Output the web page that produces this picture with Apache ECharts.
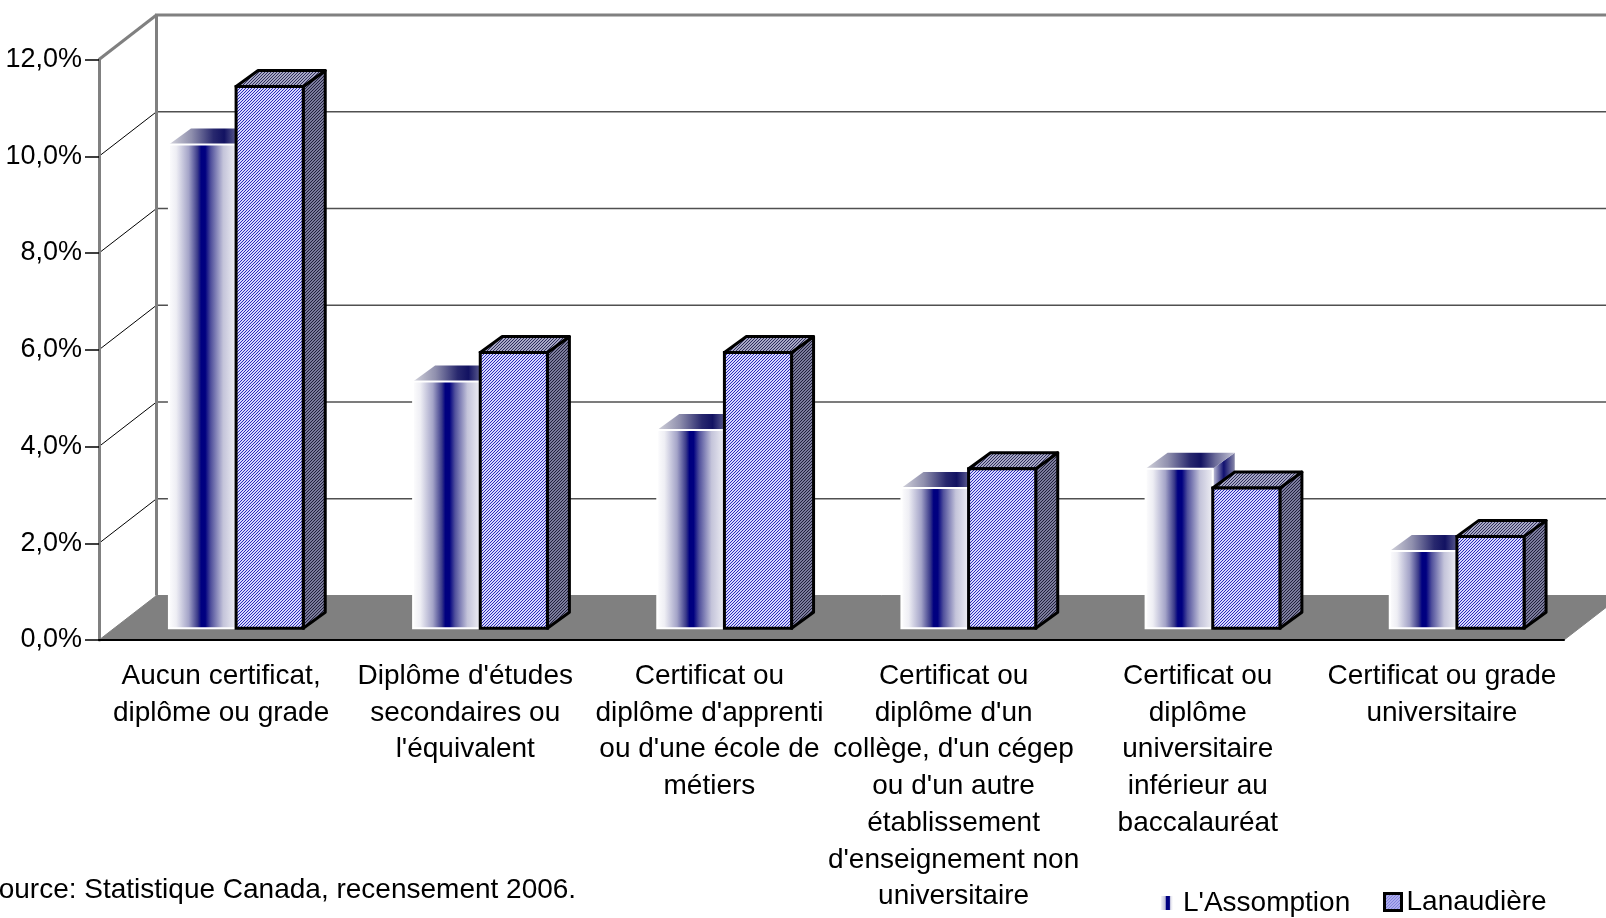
<!DOCTYPE html>
<html lang="fr">
<head>
<meta charset="UTF-8">
<title>Scolarité - L'Assomption et Lanaudière</title>
<script src="https://cdn.jsdelivr.net/npm/echarts@6.0.0/dist/echarts.min.js"></script>
<style>
  html, body { margin: 0; padding: 0; background: #fff; }
  #chart { width: 1606px; height: 918px; }
</style>
</head>
<body>
<div id="chart"></div>
<script>
// données
var categories = [
  "Aucun certificat,\ndiplôme ou grade",
  "Diplôme d'études\nsecondaires ou\nl'équivalent",
  "Certificat ou\ndiplôme d'apprenti\nou d'une école de\nmétiers",
  "Certificat ou\ndiplôme d'un\ncollège, d'un cégep\nou d'un autre\nétablissement\nd'enseignement non\nuniversitaire",
  "Certificat ou\ndiplôme\nuniversitaire\ninférieur au\nbaccalauréat",
  "Certificat ou grade\nuniversitaire"
];
var assomption = [10.0, 5.1, 4.1, 2.9, 3.3, 1.6];
var lanaudiere = [11.2, 5.7, 5.7, 3.3, 2.9, 1.9];
var yTicks = [0, 2, 4, 6, 8, 10, 12];
var seriesNames = ["L'Assomption", "Lanaudière"];
var sourceNote = "Source: Statistique Canada, recensement 2006.";

// pseudo 3D (décalages en pixels)
var WALL_DX = 57.5, WALL_DY = -44.5;
var BAR_DX = 15, BAR_DY = -11.7;
var BOX_DX = 22, BOX_DY = -16;
var BAR_W = 0.275;

function hatch(fg, bg) {
  var c = document.createElement('canvas');
  c.width = 3; c.height = 3;
  var ctx = c.getContext('2d');
  ctx.fillStyle = bg;
  ctx.fillRect(0, 0, 3, 3);
  ctx.fillStyle = fg;
  for (var x = 0; x < 3; x++) {
    for (var y = 0; y < 3; y++) {
      if ((x + y) % 3 === 0) ctx.fillRect(x, y, 1, 1);
    }
  }
  return { image: c, repeat: 'repeat' };
}

var G = echarts.graphic.LinearGradient;
function frontGrad() {
  return new G(0, 0, 1, 0, [
    { offset: 0, color: '#ffffff' },
    { offset: 0.12, color: '#eeeef4' },
    { offset: 0.3, color: '#a4a4c8' },
    { offset: 0.43, color: '#3a3a8a' },
    { offset: 0.48, color: '#000080' },
    { offset: 0.54, color: '#000080' },
    { offset: 0.62, color: '#50509c' },
    { offset: 0.8, color: '#c4c4da' },
    { offset: 1, color: '#f2f2f6' }
  ]);
}
function topGrad() {
  return new G(0, 0, 1, 0, [
    { offset: 0, color: '#d4d4dc' },
    { offset: 0.25, color: '#9090ae' },
    { offset: 0.5, color: '#28286e' },
    { offset: 0.62, color: '#121262' },
    { offset: 0.78, color: '#6a6a98' },
    { offset: 1, color: '#c8c8d8' }
  ]);
}
function sideGrad() {
  return new G(0, 0, 1, 0, [
    { offset: 0, color: '#c8c8dc' },
    { offset: 0.5, color: '#101070' },
    { offset: 1, color: '#8888a8' }
  ]);
}
function legendGrad() {
  return new G(0, 0, 1, 0, [
    { offset: 0, color: '#f4f4f8' },
    { offset: 0.35, color: '#c0c0d8' },
    { offset: 0.45, color: '#000080' },
    { offset: 0.7, color: '#000080' },
    { offset: 0.8, color: '#e0e0ec' },
    { offset: 1, color: '#ffffff' }
  ]);
}

var lanFront = hatch('#2c2cb8', '#d8d8ff');
var lanTop = hatch('#2c2c5c', '#a8a8c4');
var lanSide = hatch('#20203c', '#7c7c9c');

function renderFrame(params, api) {
  var cs = params.coordSys;
  var x0 = cs.x, x1 = cs.x + cs.width;
  var yOf = function (v) { return api.coord([0, v])[1]; };
  var y0 = yOf(yTicks[0]);
  var yTop = yOf(yTicks[yTicks.length - 1]);
  var kids = [];
  kids.push({
    type: 'polygon',
    shape: { points: [[x0, y0], [x1, y0], [x1 + WALL_DX, y0 + WALL_DY], [x0 + WALL_DX, y0 + WALL_DY]] },
    style: { fill: '#808080', stroke: '#808080' }
  });
  yTicks.slice(1, -1).forEach(function (t) {
    var y = yOf(t);
    kids.push({
      type: 'line',
      shape: { x1: x0, y1: y, x2: x0 + WALL_DX, y2: y + WALL_DY },
      style: { stroke: '#000', lineWidth: 1 }
    });
    kids.push({
      type: 'line',
      shape: { x1: x0 + WALL_DX, y1: y + WALL_DY, x2: x1 + WALL_DX, y2: y + WALL_DY },
      style: { stroke: '#505050', lineWidth: 1.5 }
    });
  });
  kids.push({
    type: 'polyline',
    shape: { points: [[x0 + WALL_DX, y0 + WALL_DY], [x0 + WALL_DX, yTop + WALL_DY], [x1 + WALL_DX, yTop + WALL_DY]] },
    style: { stroke: '#808080', lineWidth: 3, fill: null }
  });
  kids.push({
    type: 'line',
    shape: { x1: x0, y1: yTop, x2: x0 + WALL_DX, y2: yTop + WALL_DY },
    style: { stroke: '#808080', lineWidth: 3 }
  });
  return { type: 'group', children: kids };
}

function makeBar(side) {
  return function (params, api) {
    var i = api.value(0), v = api.value(1);
    var base = api.coord([i, 0]);
    var top = api.coord([i, v]);
    var w = api.size([1, 0])[0] * BAR_W;
    var L = base[0] + BAR_DX + (side === 0 ? -w : 0);
    var R = L + w;
    var B = base[1] + BAR_DY;
    var T = top[1] + BAR_DY;
    var sidePts = [[R, B], [R + BOX_DX, B + BOX_DY], [R + BOX_DX, T + BOX_DY], [R, T]];
    var topPts = [[L, T], [R, T], [R + BOX_DX, T + BOX_DY], [L + BOX_DX, T + BOX_DY]];
    if (side === 0) {
      return { type: 'group', children: [
        { type: 'polygon', shape: { points: sidePts }, style: { fill: sideGrad() } },
        { type: 'polygon', shape: { points: topPts }, style: { fill: topGrad() } },
        { type: 'rect', shape: { x: L, y: T, width: w, height: B - T },
          style: { fill: frontGrad(), stroke: '#ffffff', lineWidth: 2 } }
      ] };
    }
    return { type: 'group', children: [
      { type: 'polygon', shape: { points: sidePts },
        style: { fill: lanSide, stroke: '#000', lineWidth: 3, lineJoin: 'round' } },
      { type: 'polygon', shape: { points: topPts },
        style: { fill: lanTop, stroke: '#000', lineWidth: 3, lineJoin: 'round' } },
      { type: 'rect', shape: { x: L, y: T, width: w, height: B - T },
        style: { fill: lanFront, stroke: '#000', lineWidth: 3 } }
    ] };
  };
}

var chart = echarts.init(document.getElementById('chart'));

var option = {
  animation: false,
  backgroundColor: '#ffffff',
  textStyle: { fontFamily: 'Liberation Sans, Arial, sans-serif', color: '#000' },
  grid: { left: 99, right: 42, top: 59.5, bottom: 278 },
  xAxis: {
    type: 'category',
    data: categories,
    z: 10,
    axisLine: { lineStyle: { color: '#000', width: 2 } },
    axisTick: { length: 12, lineStyle: { color: '#000', width: 1.5 } },
    axisLabel: { interval: 0, fontSize: 28, lineHeight: 36.7, margin: 18, color: '#000' },
    splitLine: { show: false }
  },
  yAxis: {
    type: 'value',
    min: 0,
    max: 12,
    interval: 2,
    z: 10,
    axisLine: { show: true, lineStyle: { color: '#808080', width: 3 } },
    axisTick: { show: true, length: 14, lineStyle: { color: '#000', width: 1.5 } },
    axisLabel: {
      fontSize: 27, margin: 17, color: '#000',
      formatter: function (v) { return v.toFixed(1).replace('.', ',') + '%'; }
    },
    splitLine: { show: false }
  },
  legend: [
    {
      data: [{ name: seriesNames[0], icon: 'rect' }],
      left: 1161, top: 889, padding: 0,
      itemWidth: 12, itemHeight: 14,
      itemStyle: { color: legendGrad() },
      textStyle: { fontSize: 28, color: '#000', padding: [0, 0, 0, 5] },
      selectedMode: false
    },
    {
      data: [{ name: seriesNames[1], icon: 'rect' }],
      left: 1383, top: 888, padding: 0,
      itemWidth: 17, itemHeight: 17,
      itemStyle: { color: lanFront, borderColor: '#000', borderWidth: 3 },
      textStyle: { fontSize: 28, color: '#000' },
      selectedMode: false
    }
  ],
  graphic: [
    {
      type: 'text', x: -20, y: 890,
      style: { text: sourceNote, fontSize: 28, fontFamily: 'Liberation Sans', fill: '#000', verticalAlign: 'middle' }
    }
  ],
  series: [
    {
      type: 'custom', name: 'cadre', z: 1, clip: false, silent: true,
      renderItem: renderFrame,
      data: [[0, 0]]
    },
    {
      type: 'custom', name: seriesNames[0], z: 2, clip: false,
      itemStyle: { color: '#000080' },
      renderItem: makeBar(0),
      encode: { x: 0, y: 1 },
      data: assomption.map(function (v, i) { return [i, v]; })
    },
    {
      type: 'custom', name: seriesNames[1], z: 3, clip: false,
      itemStyle: { color: '#9999ee' },
      renderItem: makeBar(1),
      encode: { x: 0, y: 1 },
      data: lanaudiere.map(function (v, i) { return [i, v]; })
    }
  ]
};

chart.setOption(option);
</script>
</body>
</html>
